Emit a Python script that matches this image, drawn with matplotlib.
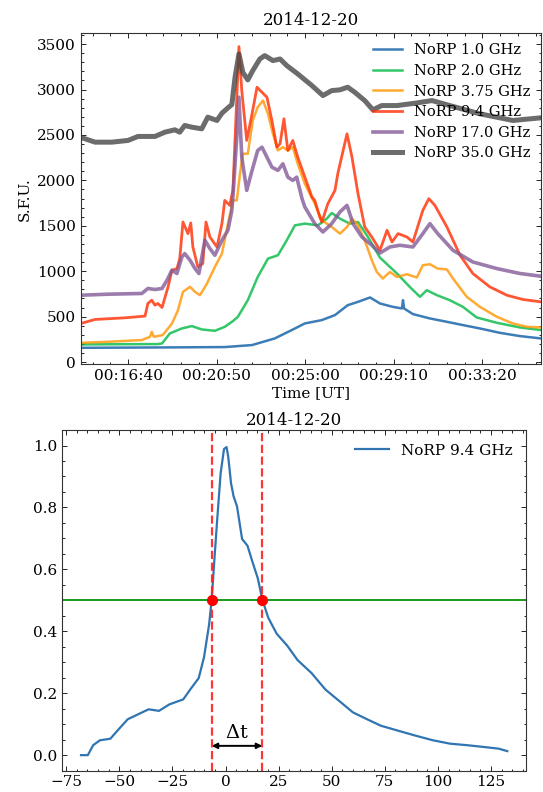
import matplotlib
matplotlib.use("Agg")
import matplotlib.pyplot as plt
from matplotlib.ticker import MultipleLocator, AutoMinorLocator, FuncFormatter

plt.rcParams["font.family"] = ["DejaVu Serif"]
plt.rcParams["mathtext.fontset"] = "dejavuserif"

# ============================================
# DATA (time in seconds since 00:00:00 UT, flux in s.f.u.)
# ============================================

date_title = "2014-12-20"
labels = ["NoRP 1.0 GHz", "NoRP 2.0 GHz", "NoRP 3.75 GHz",
          "NoRP 9.4 GHz", "NoRP 17.0 GHz", "NoRP 35.0 GHz"]
colors = ["#0C5DA5", "#00B945", "#FF9500", "#FF2C00", "#845B97", "#474747"]

t_1 = [867, 1104, 1273, 1350, 1414, 1462, 1499, 1547, 1584, 1620, 1649, 1683,
       1711, 1747, 1773, 1776, 1779, 1804, 1852, 1900, 1945, 1993, 2049, 2106, 2165]
f_1 = [157, 161, 165, 187, 260, 352, 425, 462, 517, 626, 663, 711,
       645, 608, 590, 681, 590, 528, 480, 443, 407, 370, 322, 286, 260]

t_2 = [867, 1084, 1096, 1118, 1152, 1180, 1208, 1245, 1273, 1296, 1310, 1338,
       1366, 1395, 1423, 1448, 1471, 1499, 1536, 1561, 1575, 1598, 1626, 1649,
       1677, 1711, 1759, 1795, 1824, 1843, 1872, 1908, 1945, 1984, 2041, 2106, 2165]
f_2 = [194, 198, 205, 315, 370, 396, 359, 344, 388, 451, 498, 681,
       937, 1139, 1176, 1341, 1505, 1524, 1505, 1579, 1641, 1579, 1524, 1542,
       1377, 1150, 975, 828, 718, 791, 736, 681, 608, 491, 432, 381, 352]

t_375 = [867, 943, 1039, 1062, 1067, 1073, 1098, 1124, 1141, 1155, 1175, 1189,
         1203, 1223, 1245, 1265, 1282, 1296, 1307, 1316, 1324, 1338, 1352, 1366,
         1381, 1395, 1409, 1423, 1437, 1451, 1465, 1479, 1499, 1527, 1547, 1575,
         1598, 1618, 1632, 1646, 1668, 1688, 1702, 1719, 1739, 1759, 1787, 1815,
         1832, 1852, 1874, 1900, 1917, 1956, 1993, 2041, 2086, 2126, 2165]
f_375 = [212, 223, 242, 278, 333, 278, 297, 425, 571, 773, 828, 773,
         736, 865, 1047, 1194, 1524, 1780, 1780, 2074, 2293, 2293, 2660, 2806,
         2879, 2733, 2513, 2330, 2366, 2330, 2366, 2183, 1963, 1744, 1561, 1487,
         1414, 1487, 1579, 1524, 1341, 1121, 992, 920, 992, 937, 967, 931,
         1066, 1077, 1029, 1019, 920, 718, 608, 498, 425, 388, 381]

t_94 = [867, 907, 991, 1048, 1056, 1067, 1076, 1084, 1096, 1113, 1124, 1138,
        1146, 1155, 1169, 1177, 1183, 1197, 1211, 1220, 1231, 1251, 1265, 1273,
        1287, 1296, 1307, 1313, 1321, 1335, 1350, 1364, 1378, 1392, 1406, 1420,
        1429, 1440, 1451, 1465, 1479, 1499, 1519, 1527, 1541, 1547, 1564, 1584,
        1592, 1618, 1632, 1649, 1668, 1688, 1711, 1731, 1745, 1762, 1787, 1804,
        1832, 1849, 1866, 1900, 1937, 1973, 2021, 2069, 2114, 2165]
f_94 = [425, 469, 487, 506, 645, 681, 626, 645, 601, 828, 1011, 1029,
        1139, 1542, 1414, 1531, 1267, 1047, 1084, 1542, 1377, 1267, 1524, 1780,
        1725, 1890, 2916, 3473, 2989, 2440, 2733, 3026, 2970, 2916, 2660, 2366,
        2403, 2678, 2330, 2440, 2256, 2036, 1817, 1780, 1597, 1542, 1744, 1890,
        2074, 2513, 2256, 1854, 1487, 1377, 1230, 1451, 1322, 1414, 1377, 1322,
        1670, 1799, 1725, 1487, 1176, 975, 828, 736, 689, 663]

t_17 = [867, 943, 1039, 1056, 1076, 1096, 1110, 1124, 1138, 1152, 1160, 1175,
        1189, 1200, 1217, 1231, 1245, 1265, 1282, 1293, 1296, 1307, 1313, 1321,
        1335, 1350, 1366, 1378, 1392, 1406, 1423, 1437, 1451, 1465, 1476, 1491,
        1499, 1527, 1550, 1575, 1598, 1618, 1635, 1660, 1688, 1711, 1739, 1767,
        1804, 1832, 1852, 1874, 1917, 1973, 2041, 2106, 2165]
f_17 = [736, 747, 755, 810, 799, 810, 901, 1011, 975, 1157, 1194, 1121,
        1029, 975, 1341, 1250, 1176, 1341, 1451, 1670, 1817, 2476, 2916, 2256,
        1890, 2110, 2330, 2366, 2256, 2146, 2110, 2183, 2036, 2000, 2036, 1800,
        1707, 1524, 1432, 1524, 1652, 1725, 1524, 1377, 1286, 1200, 1267, 1286,
        1267, 1414, 1524, 1414, 1231, 1102, 1029, 975, 945]

t_35 = [867, 907, 954, 1000, 1028, 1076, 1104, 1132, 1146, 1160, 1180, 1208,
        1225, 1251, 1265, 1282, 1293, 1302, 1313, 1324, 1338, 1352, 1372, 1386,
        1409, 1429, 1448, 1479, 1519, 1550, 1575, 1598, 1620, 1640, 1668, 1691,
        1716, 1759, 1810, 1858, 1908, 1993, 2086, 2165]
f_35 = [2473, 2421, 2421, 2440, 2484, 2484, 2531, 2557, 2531, 2605, 2586, 2568,
        2696, 2660, 2740, 2799, 2835, 3135, 3392, 3190, 3107, 3209, 3337, 3374,
        3319, 3337, 3264, 3172, 3044, 2934, 2989, 2997, 3026, 2970, 2879, 2777,
        2824, 2824, 2850, 2879, 2824, 2733, 2660, 2689]

# normalised 9.4 GHz profile, time relative to peak [s]
dt_rel = [-68.0, -64.8, -62.3, -59.1, -54.2, -50.1, -46.0, -41.1, -36.2, -31.3,
          -26.4, -19.9, -16.6, -12.6, -10.1, -7.7, -6.5, -5.2, -3.9, -2.3,
          -0.7, 0.5, 1.3, 2.6, 3.8, 5.4, 7.8, 10.3, 12.7, 15.2,
          17.3, 20.1, 24.1, 29.0, 33.9, 40.5, 47.0, 53.5, 60.0, 66.6,
          73.1, 81.2, 89.4, 97.6, 105.7, 113.9, 122.0, 128.5, 132.6]
norm_94 = [0.000, 0.000, 0.032, 0.048, 0.053, 0.085, 0.116, 0.132, 0.148, 0.143,
           0.164, 0.180, 0.212, 0.249, 0.317, 0.423, 0.503, 0.635, 0.762, 0.910,
           0.989, 0.995, 0.963, 0.878, 0.836, 0.804, 0.698, 0.677, 0.624, 0.571,
           0.503, 0.444, 0.392, 0.354, 0.307, 0.265, 0.212, 0.175, 0.138, 0.116,
           0.095, 0.079, 0.063, 0.048, 0.037, 0.032, 0.026, 0.021, 0.013]
half_level = 0.5
half_times = [-6.5, 17.3]

series = [(t_1, f_1), (t_2, f_2), (t_375, f_375), (t_94, f_94), (t_17, f_17), (t_35, f_35)]
widths = [1.8, 1.8, 1.8, 2.0, 2.6, 3.6]


def hms(s, pos=None):
    s = int(round(s))
    return f"{s // 3600:02d}:{s % 3600 // 60:02d}:{s % 60:02d}"


def style_axes(ax, size):
    ax.tick_params(which="both", direction="in", top=True, right=True,
                   labelsize=size, width=0.6)
    ax.tick_params(which="major", length=3.5)
    ax.tick_params(which="minor", length=1.8)
    for sp in ax.spines.values():
        sp.set_linewidth(0.8)
        sp.set_color("#333333")


fig = plt.figure(figsize=(5.43, 7.92), dpi=100)

# ============================================
# TOP PANEL - all frequencies
# ============================================
ax1 = fig.add_axes([0.149, 0.540, 0.847, 0.418])
for (t, f), lab, c, lw in zip(series, labels, colors, widths):
    ax1.plot(t, f, color=c, alpha=0.8, lw=lw, label=lab)

ax1.set_xlim(t_35[0], t_35[-1])
ax1.set_ylim(-25, 3620)
ax1.xaxis.set_major_locator(MultipleLocator(250))
ax1.xaxis.set_major_formatter(FuncFormatter(hms))
ax1.xaxis.set_minor_locator(AutoMinorLocator(5))
ax1.yaxis.set_major_locator(MultipleLocator(500))
ax1.yaxis.set_minor_locator(AutoMinorLocator(5))
style_axes(ax1, 11)
ax1.set_title(date_title, fontsize=12, pad=6)
ax1.set_xlabel("Time [UT]", fontsize=11, labelpad=2)
ax1.set_ylabel("S.F.U.", fontsize=11, labelpad=4)
ax1.legend(loc="upper right", frameon=False, fontsize=10.5,
           handlelength=2.0, labelspacing=0.45, borderaxespad=0.3)

# ============================================
# BOTTOM PANEL - FWHM of 9.4 GHz
# ============================================
ax2 = fig.add_axes([0.114, 0.027, 0.855, 0.430])
ax2.plot(dt_rel, norm_94, color="#0C5DA5", alpha=0.85, lw=1.6, label="NoRP 9.4 GHz")
ax2.axhline(half_level, color="#1a9a1a", lw=1.4)
for ht in half_times:
    ax2.axvline(ht, color="#ff2020", ls="--", lw=1.6, alpha=0.9)
ax2.plot(half_times, [half_level, half_level], "o", color="red", ms=7, zorder=5)
ax2.annotate("", xy=(half_times[0], 0.03), xytext=(half_times[1], 0.03),
             arrowprops=dict(arrowstyle="<|-|>", color="black", lw=1.4,
                             mutation_scale=8, shrinkA=0, shrinkB=0))
ax2.text(sum(half_times) / 2, 0.042, r"$\Delta$t", ha="center", va="bottom", fontsize=14)

ax2.set_xlim(-77, 141.5)
ax2.set_ylim(-0.05, 1.05)
ax2.xaxis.set_major_locator(MultipleLocator(25))
ax2.xaxis.set_minor_locator(AutoMinorLocator(5))
ax2.yaxis.set_major_locator(MultipleLocator(0.2))
ax2.yaxis.set_minor_locator(AutoMinorLocator(4))
style_axes(ax2, 11)
ax2.set_title(date_title, fontsize=12, pad=4)
ax2.legend(loc="upper right", frameon=False, fontsize=11, handlelength=2.2)

fig.savefig("out.png", dpi=100)
